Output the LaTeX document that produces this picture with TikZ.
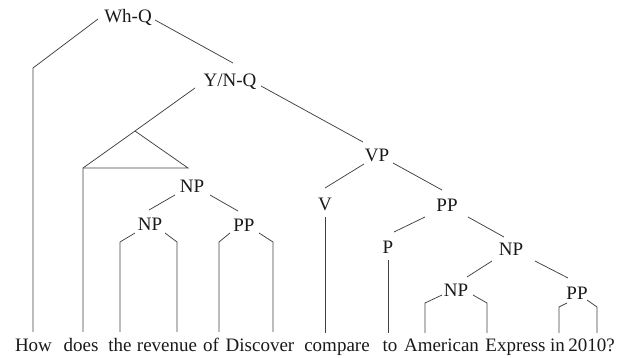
\documentclass[tikz,border=0pt]{standalone}
\usepackage{fontspec}
\setmainfont{Liberation Serif}
\begin{document}
\begin{tikzpicture}[x={(1pt,0)},y={(0,-1pt)},
  lab/.style={anchor=base,inner sep=0pt,font=\fontsize{19}{21}\selectfont,text=black!90},
  edge/.style={draw=black!75,line width=0.75pt,line join=miter}]
\useasboundingbox (0,0) rectangle (627,358);
% labels
\node[lab] (WhQ) at (128,23) {Wh-Q};
\node[lab] (YNQ) at (230,87) {Y/N-Q};
\node[lab] (VP) at (377,162) {VP};
\node[lab] (V) at (325,211) {V};
\node[lab] (PPa) at (447,212) {PP};
\node[lab] (P) at (388,254) {P};
\node[lab] (NPb) at (511,256) {NP};
\node[lab] (NPc) at (456,297) {NP};
\node[lab] (PPc) at (577,300) {PP};
\node[lab] (NPa) at (192,193) {NP};
\node[lab] (NPd) at (150,231) {NP};
\node[lab] (PPd) at (244,232) {PP};
% words
\node[lab] (w1) at (33.5,352) {How};
\node[lab] (w2) at (81,352) {does};
\node[lab] (w3) at (120,352) {the};
\node[lab] (w4) at (167,352) {revenue};
\node[lab] (w5) at (211,352) {of};
\node[lab] (w6) at (260,352) {Discover};
\node[lab] (w7) at (337,352) {compare};
\node[lab] (w8) at (390,352) {to};
\node[lab] (w9) at (441.5,352) {American};
\node[lab] (w10) at (515.5,352) {Express};
\node[lab] (w11) at (557.5,352) {in};
\node[lab] (w12) at (591.5,352) {2010?};
% connector points
\coordinate (a1) at (98,19);   \coordinate (a2) at (33,68);   \coordinate (a3) at (33,332);
\coordinate (b1) at (155,20);  \coordinate (b2) at (233,63);
\coordinate (c1) at (195,88);  \coordinate (c2) at (135,131); \coordinate (c3) at (83,168);
\coordinate (c4) at (188,168); \coordinate (c5) at (83,332);
\coordinate (d1) at (261,86);  \coordinate (d2) at (363,142);
\coordinate (e1) at (364,164); \coordinate (e2) at (325,188);
\coordinate (e3) at (393,163); \coordinate (e4) at (442,190);
\coordinate (f1) at (325,217); \coordinate (f2) at (325,333);
\coordinate (g1) at (425,217); \coordinate (g2) at (394,232);
\coordinate (g3) at (388,260); \coordinate (g4) at (388,333);
\coordinate (h1) at (468,217); \coordinate (h2) at (504,237);
\coordinate (i1) at (492,261); \coordinate (i2) at (467,277);
\coordinate (i3) at (535,261); \coordinate (i4) at (568,278);
\coordinate (j1) at (442,295); \coordinate (j2) at (425,303); \coordinate (j3) at (425,333);
\coordinate (j4) at (473,295); \coordinate (j5) at (487,303); \coordinate (j6) at (487,333);
\coordinate (k1) at (567,303); \coordinate (k2) at (559,307); \coordinate (k3) at (559,333);
\coordinate (k4) at (587,300); \coordinate (k5) at (597,307); \coordinate (k6) at (597,333);
\coordinate (l1) at (175,195); \coordinate (l2) at (149,210);
\coordinate (l3) at (210,195); \coordinate (l4) at (238,211);
\coordinate (m1) at (135,233); \coordinate (m2) at (120,242); \coordinate (m3) at (120,332);
\coordinate (m4) at (165,233); \coordinate (m5) at (177,242); \coordinate (m6) at (177,332);
\coordinate (n1) at (230,233); \coordinate (n2) at (219,242); \coordinate (n3) at (219,332);
\coordinate (n4) at (259,233); \coordinate (n5) at (273,242); \coordinate (n6) at (273,332);
% connectors
\draw[edge] (a1) -- (a2) -- (a3);
\draw[edge] (b1) -- (b2);
\draw[edge] (c1) -- (c2) -- (c3) -- (c5);
\draw[edge] (c2) -- (c4) -- (c3);
\draw[edge] (d1) -- (d2);
\draw[edge] (e1) -- (e2);
\draw[edge] (e3) -- (e4);
\draw[edge] (f1) -- (f2);
\draw[edge] (g1) -- (g2);
\draw[edge] (g3) -- (g4);
\draw[edge] (h1) -- (h2);
\draw[edge] (i1) -- (i2);
\draw[edge] (i3) -- (i4);
\draw[edge] (j1) -- (j2) -- (j3);
\draw[edge] (j4) -- (j5) -- (j6);
\draw[edge] (k1) -- (k2) -- (k3);
\draw[edge] (k4) -- (k5) -- (k6);
\draw[edge] (l1) -- (l2);
\draw[edge] (l3) -- (l4);
\draw[edge] (m1) -- (m2) -- (m3);
\draw[edge] (m4) -- (m5) -- (m6);
\draw[edge] (n1) -- (n2) -- (n3);
\draw[edge] (n4) -- (n5) -- (n6);
\end{tikzpicture}
\end{document}
